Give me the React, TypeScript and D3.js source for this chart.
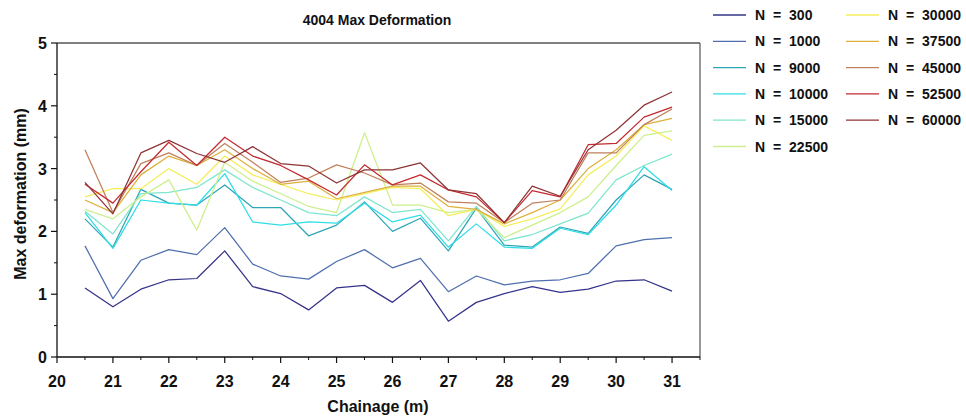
import React from "react";
import * as d3 from "d3";

const chainage = [20.5, 21, 21.5, 22, 22.5, 23, 23.5, 24, 24.5, 25, 25.5, 26, 26.5, 27, 27.5, 28, 28.5, 29, 29.5, 30, 30.5, 31];

const seriesNames = ["N = 300", "N = 1000", "N = 9000", "N = 10000", "N = 15000", "N = 22500", "N = 30000", "N = 37500", "N = 45000", "N = 52500", "N = 60000"];

const seriesColors = ["#35338a", "#4f6fae", "#2ea6b6", "#2fdde6", "#7ee6cc", "#cdef8c", "#f4ee5c", "#dcb03c", "#c0805c", "#c42a30", "#8e3434"];

const n300 = [1.1, 0.8, 1.08, 1.23, 1.25, 1.69, 1.12, 1.01, 0.75, 1.1, 1.14, 0.87, 1.22, 0.57, 0.87, 1.01, 1.12, 1.03, 1.08, 1.21, 1.23, 1.05];
const n1000 = [1.77, 0.93, 1.54, 1.71, 1.63, 2.06, 1.48, 1.29, 1.24, 1.52, 1.71, 1.42, 1.57, 1.04, 1.29, 1.15, 1.21, 1.23, 1.33, 1.77, 1.87, 1.9];
const n9000 = [2.2, 1.75, 2.67, 2.45, 2.42, 2.74, 2.38, 2.38, 1.93, 2.1, 2.47, 2.0, 2.21, 1.69, 2.37, 1.78, 1.75, 2.07, 1.97, 2.5, 2.9, 2.67];
const n10000 = [2.3, 1.73, 2.5, 2.45, 2.42, 2.92, 2.15, 2.1, 2.15, 2.13, 2.45, 2.15, 2.26, 1.75, 2.12, 1.75, 1.73, 2.05, 1.95, 2.42, 3.03, 2.65];
const n15000 = [2.32, 1.96, 2.6, 2.62, 2.7, 2.98, 2.7, 2.5, 2.3, 2.25, 2.55, 2.3, 2.35, 1.85, 2.4, 1.85, 1.95, 2.12, 2.29, 2.82, 3.05, 3.23];
const n22500 = [2.35, 2.2, 2.55, 2.82, 2.02, 3.1, 2.8, 2.6, 2.4, 2.3, 3.57, 2.42, 2.42, 2.3, 2.35, 1.9, 2.1, 2.3, 2.55, 3.05, 3.53, 3.6];
const n30000 = [2.55, 2.68, 2.68, 3.0, 2.75, 3.2, 2.9, 2.75, 2.6, 2.5, 2.6, 2.7, 2.68, 2.25, 2.35, 2.08, 2.2, 2.36, 2.9, 3.2, 3.68, 3.45];
const n37500 = [2.5, 2.3, 2.9, 3.2, 3.05, 3.3, 3.0, 2.75, 2.8, 2.52, 2.62, 2.72, 2.72, 2.4, 2.35, 2.12, 2.3, 2.5, 3.0, 3.3, 3.7, 3.8];
const n45000 = [3.3, 2.3, 3.08, 3.25, 3.05, 3.4, 3.1, 2.78, 2.85, 3.06, 2.93, 2.74, 2.77, 2.47, 2.45, 2.14, 2.45, 2.5, 3.25, 3.25, 3.7, 3.95];
const n52500 = [2.75, 2.45, 2.95, 3.42, 3.05, 3.5, 3.2, 3.05, 2.82, 2.58, 3.06, 2.74, 2.9, 2.66, 2.55, 2.14, 2.65, 2.55, 3.38, 3.4, 3.82, 3.98];
const n60000 = [2.78, 2.28, 3.25, 3.45, 3.24, 3.1, 3.35, 3.08, 3.04, 2.77, 2.98, 2.98, 3.09, 2.66, 2.6, 2.14, 2.72, 2.56, 3.3, 3.61, 4.01, 4.22];

const seriesValues = [n300, n1000, n9000, n10000, n15000, n22500, n30000, n37500, n45000, n52500, n60000];

const xMajorTicks = [20, 21, 22, 23, 24, 25, 26, 27, 28, 29, 30, 31];
const yMajorTicks = [0, 1, 2, 3, 4, 5];

const W = 966;
const H = 419;
const left = 57;
const right = 700;
const top = 43;
const bottom = 357;
const font = "'Liberation Sans', Arial, sans-serif";

export default function App() {
  const x = d3.scaleLinear().domain([20, 31.5]).range([left, right]);
  const y = d3.scaleLinear().domain([0, 5]).range([bottom, top]);
  const line = d3
    .line<number>()
    .x((_, i) => x(chainage[i]))
    .y((d) => y(d));

  const xMinor = d3.range(20.5, 31.6, 1);
  const yMinor = d3.range(0.5, 5, 1);

  const legendCols = [713, 846];
  const legendRowY = (r: number) => 15 + r * 26.3;

  return (
    <svg
      width={W}
      height={H}
      style={{ position: "absolute", left: 0, top: 0, background: "#fff" }}
      fontFamily={font}
    >
      <text x={377} y={25} textAnchor="middle" fontSize={14} fontWeight="bold" fill="#111">
        4004 Max Deformation
      </text>

      {/* frame: top and right edges */}
      <line x1={left} x2={right} y1={top} y2={top} stroke="#555" strokeWidth={1.5} />
      <line x1={right} x2={right} y1={top} y2={bottom} stroke="#555" strokeWidth={1.2} />

      {/* data lines */}
      <g fill="none" strokeWidth={1.25} strokeLinejoin="round">
        {seriesValues.map((vals, i) => (
          <path key={seriesNames[i]} d={line(vals) || ""} stroke={seriesColors[i]} />
        ))}
      </g>

      {/* x axis */}
      <line x1={left} x2={right} y1={bottom} y2={bottom} stroke="#111" strokeWidth={1.3} />
      {xMajorTicks.map((t) => (
        <g key={"xt" + t}>
          <line x1={x(t)} x2={x(t)} y1={bottom} y2={bottom + 6} stroke="#111" strokeWidth={1.2} />
          <text x={x(t)} y={bottom + 30} textAnchor="middle" fontSize={16} fontWeight="bold" fill="#111">
            {t}
          </text>
        </g>
      ))}
      {xMinor.map((t) => (
        <line key={"xm" + t} x1={x(t)} x2={x(t)} y1={bottom} y2={bottom + 3} stroke="#111" strokeWidth={1} />
      ))}

      {/* y axis */}
      <line x1={left} x2={left} y1={top} y2={bottom} stroke="#111" strokeWidth={1.3} />
      {yMajorTicks.map((t) => (
        <g key={"yt" + t}>
          <line x1={left - 6} x2={left} y1={y(t)} y2={y(t)} stroke="#111" strokeWidth={1.2} />
          <text x={left - 10} y={y(t) + 6} textAnchor="end" fontSize={16} fontWeight="bold" fill="#111">
            {t}
          </text>
        </g>
      ))}
      {yMinor.map((t) => (
        <line key={"ym" + t} x1={left - 3} x2={left} y1={y(t)} y2={y(t)} stroke="#111" strokeWidth={1} />
      ))}

      <text x={378} y={412} textAnchor="middle" fontSize={16} fontWeight="bold" fill="#111">
        Chainage (m)
      </text>
      <text
        transform={`translate(26, ${(top + bottom) / 2 - 6}) rotate(-90)`}
        textAnchor="middle"
        fontSize={16}
        fontWeight="bold"
        fill="#111"
      >
        Max deformation (mm)
      </text>

      {/* legend */}
      {seriesNames.map((name, i) => {
        const col = i < 6 ? 0 : 1;
        const row = i < 6 ? i : i - 6;
        const lx = legendCols[col];
        const ly = legendRowY(row);
        return (
          <g key={"lg" + name}>
            <line x1={lx} x2={lx + 33} y1={ly} y2={ly} stroke={seriesColors[i]} strokeWidth={1.3} />
            <text x={lx + 42} y={ly + 5} fontSize={14} fontWeight="bold" fill="#111" style={{ wordSpacing: "4px" }}>
              {name}
            </text>
          </g>
        );
      })}
    </svg>
  );
}
